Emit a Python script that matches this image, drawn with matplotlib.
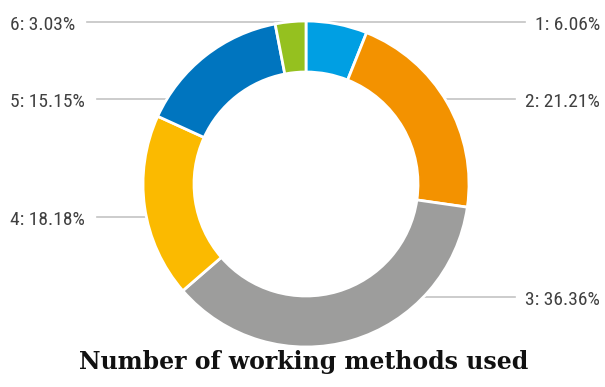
import numpy as np
import matplotlib.pyplot as plt

# number of working methods -> share of respondents (%)
categories = ["1", "2", "3", "4", "5", "6"]
shares = [6.06, 21.21, 36.36, 18.18, 15.15, 3.03]
colors = ["#009FE3", "#F39200", "#9D9D9C", "#FBBA00", "#0075BF", "#95C11F"]

# label rows (pixels from top) and which side they sit on
label_rows = [22, 99, 297, 217, 99, 22]
label_side = ["right", "right", "right", "left", "left", "left"]

label_font = ["Roboto Condensed", "Liberation Sans Narrow", "DejaVu Sans"]
title_font = ["DejaVu Serif"]

W, H = 605, 387
cx, cy, R = 306, H - 184, 163

fig = plt.figure(figsize=(W / 100, H / 100), dpi=100)
ax = fig.add_axes([0, 0, 1, 1])
ax.set_xlim(0, W)
ax.set_ylim(0, H)
ax.set_aspect("equal")
ax.axis("off")

ax.pie(shares, colors=colors, startangle=90, counterclock=False,
       center=(cx, cy), radius=R,
       wedgeprops=dict(width=51, edgecolor="white", linewidth=2))
ax.set_xlim(0, W)
ax.set_ylim(0, H)

fig.canvas.draw()
renderer = fig.canvas.get_renderer()
inv = ax.transData.inverted()

# labels in two columns, leader lines run flat into the ring
for cat, val, row, side in zip(categories, shares, label_rows, label_side):
    y = H - row
    dx = np.sqrt(max(R ** 2 - (y - cy) ** 2, 0))
    txt = "%s: %.2f%%" % (cat, val)
    if side == "right":
        t = ax.text(600, y - 3, txt, ha="right", va="center",
                    fontsize=14, family=label_font, color="#404040")
        bb = t.get_window_extent(renderer)
        x_end = inv.transform((bb.x0, 0))[0] - 10
        ax.plot([cx + dx, x_end], [y, y], color="#c4c4c4", lw=1.2, zorder=0)
    else:
        t = ax.text(10, y - 3, txt, ha="left", va="center",
                    fontsize=14, family=label_font, color="#404040")
        bb = t.get_window_extent(renderer)
        x_start = inv.transform((bb.x1, 0))[0] + 12
        ax.plot([x_start, cx - dx], [y, y], color="#c4c4c4", lw=1.2, zorder=0)

ax.text(W / 2 + 1, H - 369, "Number of working methods used", ha="center",
        va="baseline", fontsize=17, fontweight="bold",
        family=title_font, color="#111111")

fig.savefig("out.png", dpi=100)
